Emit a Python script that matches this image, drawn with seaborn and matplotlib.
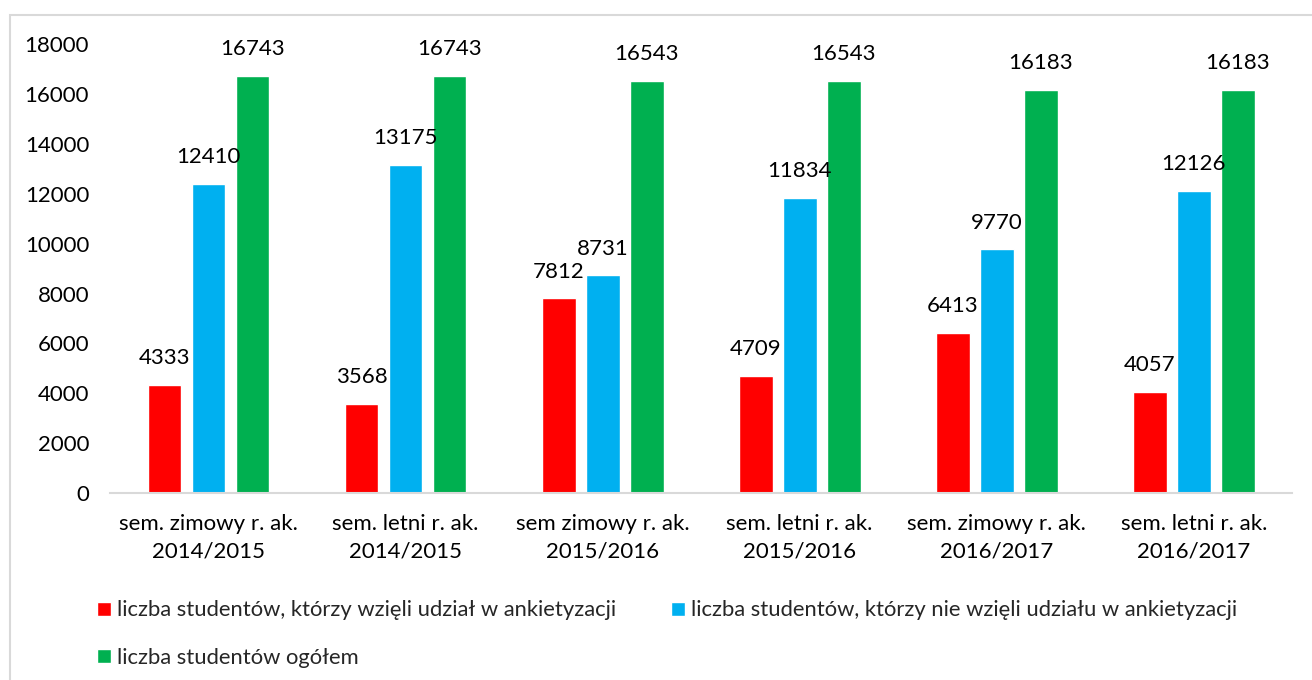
import pandas as pd
import matplotlib.pyplot as plt
import seaborn as sns
from matplotlib.patches import Rectangle

# data
categories = ['sem. zimowy r. ak.\n2014/2015', 'sem. letni r. ak.\n2014/2015',
              'sem zimowy r. ak.\n2015/2016', 'sem. letni r. ak.\n2015/2016',
              'sem. zimowy r. ak.\n2016/2017', 'sem. letni r. ak.\n2016/2017']
series_names = ['liczba studentów, którzy wzięli udział w ankietyzacji',
                'liczba studentów, którzy nie wzięli udziału w ankietyzacji',
                'liczba studentów ogółem']
took_part = [4333, 3568, 7812, 4709, 6413, 4057]
not_took_part = [12410, 13175, 8731, 11834, 9770, 12126]
total = [16743, 16743, 16543, 16543, 16183, 16183]
colors = ['#FF0000', '#00B0F0', '#00B050']

rows = []
for name, vals in zip(series_names, [took_part, not_took_part, total]):
    for cat, v in zip(categories, vals):
        rows.append({'kategoria': cat, 'seria': name, 'wartosc': v})
df = pd.DataFrame(rows)

sns.set_style('white')
plt.rcParams['font.family'] = ['Lato', 'DejaVu Sans']

fig = plt.figure(figsize=(13.12, 6.8), dpi=100)
ax = fig.add_axes([0.0838, 0.275, 0.9012, 0.66])

sns.barplot(data=df, x='kategoria', y='wartosc', hue='seria', order=categories,
            hue_order=series_names, palette=colors, width=0.67, gap=0.23,
            saturation=1, ax=ax, legend=True)

for cont in ax.containers:
    ax.bar_label(cont, fmt='%d', padding=12, fontsize=16, color='#000000')

ax.set_ylim(0, 18000)
ax.set_xlim(-0.5, 5.5)
ax.set_yticks(range(0, 18001, 2000))
ax.set_xlabel('')
ax.set_ylabel('')
ax.tick_params(axis='both', labelsize=16, colors='#000000', length=0)
ax.tick_params(axis='y', pad=15)
ax.tick_params(axis='x', pad=15)
for lbl in ax.get_xticklabels():
    lbl.set_linespacing(1.45)
for s in ['top', 'right', 'left']:
    ax.spines[s].set_visible(False)
ax.spines['bottom'].set_color('#D9D9D9')
ax.spines['bottom'].set_linewidth(1.5)

# legend filled row by row: red, blue in first row, green in second
handles, labels = ax.get_legend_handles_labels()
ax.get_legend().remove()
order = [0, 2, 1]
fig.legend([handles[i] for i in order], [labels[i] for i in order], ncol=2,
           loc='upper left', bbox_to_anchor=(0.0587, 0.146),
           frameon=False, fontsize=15.8, handlelength=0.64, handleheight=0.64,
           handletextpad=0.27, columnspacing=2.5, labelspacing=1.25)

fig.patches.append(Rectangle((10 / 1312, -0.1), 1.1, (680 - 15) / 680 + 0.1,
                             transform=fig.transFigure, fill=False,
                             edgecolor='#D9D9D9', linewidth=1.5))

fig.savefig('out.png', dpi=100)
